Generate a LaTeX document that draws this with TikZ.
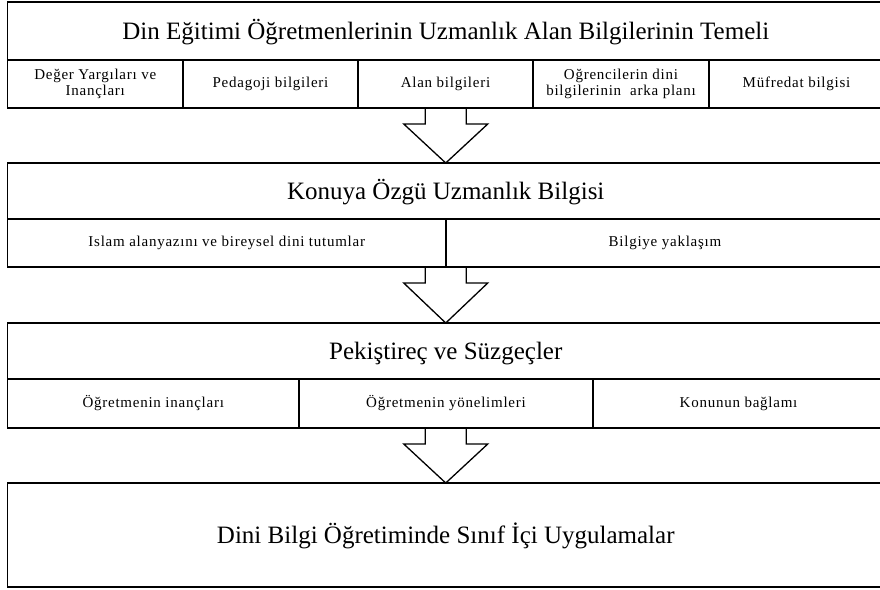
\documentclass[tikz,border=0pt]{standalone}
\usepackage{fontspec}
\setmainfont{Liberation Serif}
\newfontfamily\cellfont[LetterSpace=5]{Liberation Serif}
\newfontfamily\plainfont{Liberation Serif}
\usetikzlibrary{positioning,calc}

\tikzset{
  box/.style={draw, line width=1.3pt, inner sep=0pt, outer sep=0pt, align=center},
  bigtext/.style={font=\plainfont\fontsize{25}{28}\selectfont, text height=19pt, text depth=2.5pt},
  smalltext/.style={font=\cellfont\fontsize{15}{15.5}\selectfont},
  oneline/.style={text height=10.5pt, text depth=3.5pt},
  blockline/.style={line width=1.3pt, line join=miter}
}

% hollow block arrow from a point to the top of the next box
\newcommand{\blockarrow}[2]{%
  \draw[blockline] let \p1=(#1), \p2=(#2.north) in
    (\x2-20.5pt,\y1) -- (\x2-20.5pt,\y1-16pt) -- (\x2-42pt,\y1-16pt) -- (\x2,\y2)
    -- (\x2+42pt,\y1-16pt) -- (\x2+20.5pt,\y1-16pt) -- (\x2+20.5pt,\y1);}

\begin{document}
\begin{tikzpicture}[x=1pt, y=-1pt]
\useasboundingbox (0,0) rectangle (880,589);

% first block
\node[box, bigtext, minimum width=876.5pt, minimum height=58pt] (title1) at (445.75,31) {Din Eğitimi Öğretmenlerinin Uzmanlık Alan Bilgilerinin Temeli};
\node[box, smalltext, minimum width=175.5pt, minimum height=48pt] (r1a) at (95.25,84) {Değer Yargıları ve\\Inançları};
\node[box, smalltext, oneline, minimum width=175pt, minimum height=48pt] (r1b) at (270.5,84) {Pedagoji bilgileri};
\node[box, smalltext, oneline, minimum width=175pt, minimum height=48pt] (r1c) at (445.5,84) {Alan bilgileri};
\node[box, smalltext, minimum width=176pt, minimum height=48pt] (r1d) at (621,84) {Oğrencilerin dini\\bilgilerinin\ \ arka planı};
\node[box, smalltext, oneline, minimum width=175pt, minimum height=48pt] (r1e) at (796.5,84) {Müfredat bilgisi};

% second block
\node[box, bigtext, minimum width=876.5pt, minimum height=56pt] (title2) at (445.75,191) {Konuya Özgü Uzmanlık Bilgisi};
\node[box, smalltext, oneline, minimum width=438.5pt, minimum height=48pt] (r2a) at (226.75,243) {Islam alanyazını ve bireysel dini tutumlar};
\node[box, smalltext, oneline, minimum width=438pt, minimum height=48pt] (r2b) at (665,243) {Bilgiye yaklaşım};

% third block
\node[box, bigtext, minimum width=876.5pt, minimum height=56pt] (title3) at (445.75,351) {Pekiştireç ve Süzgeçler};
\node[box, smalltext, oneline, minimum width=291.5pt, minimum height=49pt] (r3a) at (153.25,403.5) {Öğretmenin inançları};
\node[box, smalltext, oneline, minimum width=294pt, minimum height=49pt] (r3b) at (446,403.5) {Öğretmenin yönelimleri};
\node[box, smalltext, oneline, minimum width=291pt, minimum height=49pt] (r3c) at (738.5,403.5) {Konunun bağlamı};

% last block
\node[box, bigtext, minimum width=876.5pt, minimum height=104pt] (title4) at (445.75,535) {Dini Bilgi Öğretiminde Sınıf İçi Uygulamalar};

\blockarrow{r1c.south}{title2}
\blockarrow{r2a.south east}{title3}
\blockarrow{r3b.south}{title4}
\end{tikzpicture}
\end{document}
